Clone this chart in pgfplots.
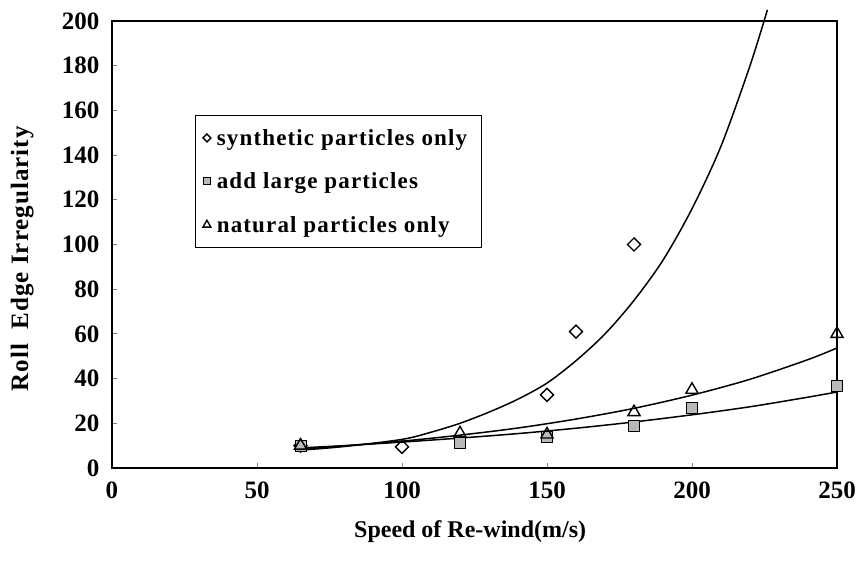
\documentclass[border=0pt]{standalone}
\usepackage{fontspec}
\setmainfont{Liberation Serif}
\newfontfamily\lsfont[LetterSpace=5]{Liberation Serif}
\newfontfamily\ylfont[LetterSpace=4]{Liberation Serif}
\usepackage{pgfplots}
\pgfplotsset{compat=1.18}
\begin{document}
\begin{tikzpicture}[x=1pt,y=1pt]
\useasboundingbox (0,0) rectangle (857,562);
\begin{axis}[
  at={(112pt,94pt)}, anchor=south west, scale only axis,
  width=725pt, height=447pt,
  xmin=0, xmax=250, ymin=0, ymax=200,
  xtick={0,50,...,250}, ytick={0,20,...,200},
  tick align=inside, tick pos=left,
  major tick length=5pt,
  tick style={line width=0.8pt},
  axis line style={line width=1.4pt},
  ticklabel style={font=\fontsize{25}{25}\selectfont\bfseries},
  /pgf/number format/assume math mode=true,
  xticklabel style={yshift=-10pt},
  yticklabel style={xshift=-9pt},
  xlabel={Speed of Re-wind(m/s)},
  ylabel={Roll\ \ Edge Irregularity},
  xlabel style={font=\fontsize{24}{24}\selectfont\bfseries, at={(axis description cs:0.494,0)}, anchor=center, yshift=-64pt},
  ylabel style={font=\fontsize{25}{25}\ylfont\bfseries, at={(axis description cs:-0.124,0.468)}, anchor=center},
  clip=false,
  legend style={at={(rel axis cs:0.114,0.79)}, anchor=north west, draw=black, line width=0.6pt,
    font=\fontsize{23}{23}\lsfont\bfseries, row sep=22pt, inner xsep=8pt, inner ysep=12pt,
    nodes={inner xsep=6pt}},
  legend cell align=left,
]
% data points
\addplot[only marks, mark=square, mark size=4.6pt, mark options={line width=1.4pt, fill=white, rotate=45}, black,
  legend image post style={mark size=2.8pt}]
  coordinates {(65,10) (100,9.5) (150,32.7) (160,61) (180,100)};
\addlegendentry{synthetic particles only}
\addplot[only marks, mark=square*, mark size=5.5pt, mark options={line width=1pt, fill=gray!55, draw=black}, black,
  legend image post style={mark size=3.6pt}]
  coordinates {(65,10) (120,11) (150,14) (180,19) (200,27) (250,36.5)};
\addlegendentry{add large particles}
\addplot[only marks, mark=triangle, mark size=7pt, mark options={line width=1.4pt}, black,
  legend image post style={mark size=4.5pt}]
  coordinates {(65,10) (120,15.5) (150,15) (180,25) (200,35) (250,60)};
\addlegendentry{natural particles only}
% trend curves
\addplot[forget plot, black, line width=1.5pt, smooth] coordinates {
 (65,8) (80,9.6) (100,12.8) (110,16) (120,20) (130,25) (140,30.8) (150,38) (160,48) (170,60) (180,75) (190,93) (200,116) (210,144) (220,180) (226,205)};
\addplot[forget plot, black, line width=1.5pt, smooth] coordinates {
 (65,8.5) (80,9.9) (100,12.0) (120,14.7) (140,17.9) (160,21.9) (180,26.7) (200,32.6) (220,39.7) (240,48.5) (250,53.7)};
\addplot[forget plot, black, line width=1.5pt, smooth] coordinates {
 (65,9.0) (80,10.0) (100,11.6) (120,13.4) (140,15.4) (160,17.8) (180,20.6) (200,23.8) (220,27.4) (240,31.7) (250,34.0)};
\end{axis}
\end{tikzpicture}
\end{document}
